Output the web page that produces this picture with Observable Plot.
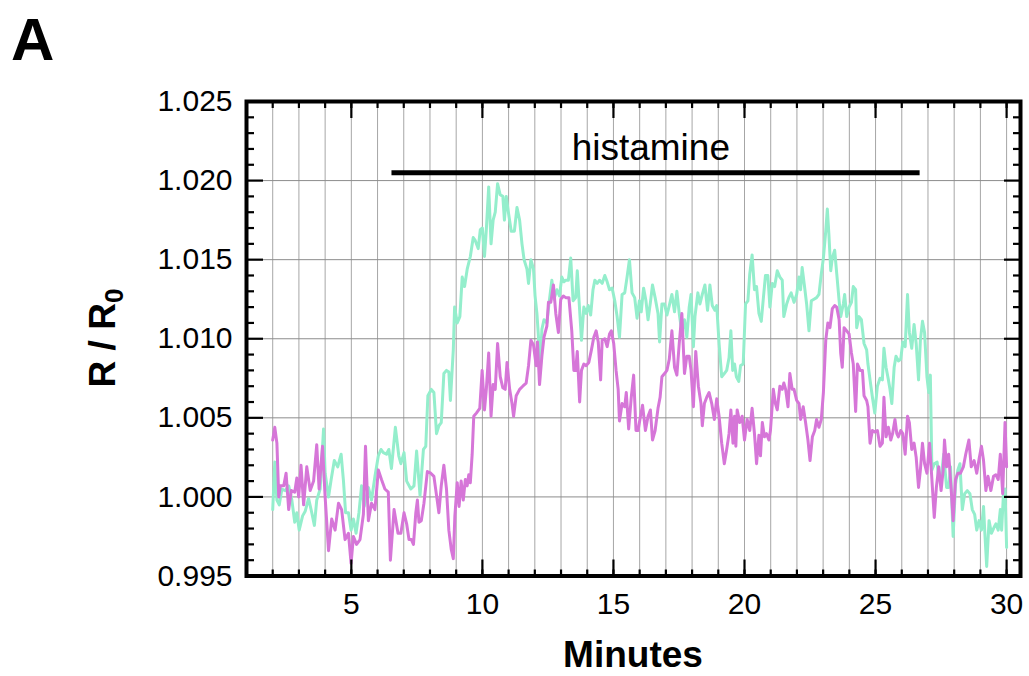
<!DOCTYPE html>
<html>
<head>
<meta charset="utf-8">
<script src="https://cdn.jsdelivr.net/npm/d3@7"></script>
<script src="https://cdn.jsdelivr.net/npm/@observablehq/plot@0.6"></script>
<style>
  html, body { margin: 0; padding: 0; background: #fff; }
</style>
</head>
<body>
<div id="chart"></div>
<script>
// ---- Data ----
const panelLabel = "A";
const xTitle = "Minutes";
const stimulusLabel = "histamine";
const stimulusStart = 6.55;
const stimulusEnd = 26.7;
const stimulusLevel = 1.0205;
const stimulusTextLevel = 1.0213;

const xMajorTicks = [5, 10, 15, 20, 25, 30];
const xMinorTicks = [2,3,4,5,6,7,8,9,10,11,12,13,14,15,16,17,18,19,20,21,22,23,24,25,26,27,28,29,30];
const yMajorTicks = [0.995, 1.000, 1.005, 1.010, 1.015, 1.020, 1.025];
const yMinorTicks = [0.996,0.997,0.998,0.999,1.001,1.002,1.003,1.004,1.006,1.007,1.008,1.009,
  1.011,1.012,1.013,1.014,1.016,1.017,1.018,1.019,1.021,1.022,1.023,1.024];

// teal trace: [minutes, R/R0]
const tealSeries = [
[2.00,0.9992],[2.08,1.0022],[2.16,0.9998],[2.25,0.9995],[2.35,1.0005],[2.48,1.0004],[2.61,1.0007],[2.73,0.9998],[2.84,0.9984],[2.92,0.9990],[3.01,0.9979],[3.14,0.9988],[3.24,0.9991],[3.37,0.9999],[3.49,0.9990],[3.59,0.9982],[3.68,0.9998],[3.81,1.0005],[3.94,1.0043],[4.00,1.0015],[4.13,1.0000],[4.23,1.0011],[4.35,1.0023],[4.48,1.0019],[4.61,1.0027],[4.70,1.0010],[4.78,0.9990],[4.89,0.9990],[4.99,0.9979],[5.08,0.9986],[5.18,0.9977],[5.29,0.9990],[5.39,1.0007],[5.49,0.9994],[5.65,1.0006],[5.77,0.9998],[5.90,1.0013],[6.03,1.0026],[6.13,1.0030],[6.22,1.0028],[6.34,1.0027],[6.43,1.0030],[6.53,1.0018],[6.68,1.0044],[6.81,1.0026],
[6.89,1.0021],[7.01,1.0028],[7.11,1.0010],[7.27,1.0005],[7.39,1.0007],[7.49,1.0029],[7.62,1.0001],[7.75,1.0030],[7.84,1.0032],[7.92,1.0064],[8.05,1.0068],[8.15,1.0066],[8.25,1.0040],[8.34,1.0045],[8.43,1.0047],[8.53,1.0078],[8.63,1.0080],[8.72,1.0079],[8.78,1.0061],[8.89,1.0093],[8.94,1.0120],[9.04,1.0110],[9.14,1.0114],[9.23,1.0139],[9.32,1.0133],[9.42,1.0144],[9.54,1.0152],[9.65,1.0164],[9.73,1.0162],[9.84,1.0157],[9.92,1.0169],[10.00,1.0170],[10.08,1.0152],[10.15,1.0169],[10.24,1.0196],[10.33,1.0160],[10.41,1.0175],[10.49,1.0180],[10.58,1.0198],[10.68,1.0191],[10.78,1.0190],[10.84,1.0175],[10.91,1.0190],[11.00,1.0179],[11.10,1.0168],[11.22,1.0168],[11.32,1.0183],[11.42,1.0175],[11.51,1.0160],[11.59,1.0150],[11.70,1.0144],[11.76,1.0135],[11.85,1.0150],[11.95,1.0144],[12.01,1.0127],[12.08,1.0116],[12.14,1.0101],[12.20,1.0080],[12.27,1.0106],[12.35,1.0112],[12.46,1.0110],[12.56,1.0125],[12.65,1.0137],[12.73,1.0125],[12.84,1.0131],[12.94,1.0127],[13.03,1.0139],[13.11,1.0136],
[13.18,1.0137],[13.28,1.0137],[13.37,1.0151],[13.46,1.0124],[13.56,1.0126],[13.62,1.0143],[13.71,1.0118],[13.78,1.0099],[13.87,1.0120],[13.96,1.0116],[14.04,1.0121],[14.13,1.0115],[14.22,1.0131],[14.29,1.0137],[14.38,1.0135],[14.47,1.0137],[14.57,1.0135],[14.67,1.0140],[14.76,1.0136],[14.85,1.0131],[14.95,1.0132],[15.05,1.0124],[15.14,1.0114],[15.23,1.0101],[15.33,1.0128],[15.43,1.0129],[15.52,1.0139],[15.61,1.0150],[15.71,1.0129],[15.81,1.0126],[15.90,1.0113],[15.99,1.0124],[16.06,1.0117],[16.15,1.0132],[16.24,1.0124],[16.32,1.0112],[16.41,1.0123],[16.49,1.0134],[16.59,1.0126],[16.70,1.0116],[16.76,1.0098],[16.85,1.0122],[16.95,1.0122],[17.04,1.0115],[17.13,1.0121],[17.23,1.0128],[17.33,1.0117],[17.42,1.0130],[17.51,1.0116],[17.61,1.0104],[17.71,1.0112],[17.80,1.0101],[17.89,1.0120],[17.96,1.0128],[18.05,1.0095],[18.11,1.0114],[18.22,1.0129],[18.30,1.0122],[18.39,1.0128],[18.49,1.0134],[18.59,1.0118],[18.68,1.0134],[18.77,1.0121],[18.87,1.0118],[18.94,1.0121],[19.03,1.0097],[19.13,1.0076],[19.23,1.0078],[19.32,1.0080],[19.41,1.0088],[19.48,1.0105],
[19.55,1.0080],[19.62,1.0084],[19.69,1.0076],[19.78,1.0073],[19.85,1.0083],[19.95,1.0084],[20.04,1.0122],[20.13,1.0124],[20.20,1.0141],[20.29,1.0153],[20.38,1.0131],[20.46,1.0133],[20.55,1.0116],[20.64,1.0111],[20.71,1.0124],[20.80,1.0140],[20.89,1.0140],[20.97,1.0120],[21.06,1.0135],[21.15,1.0133],[21.25,1.0143],[21.35,1.0139],[21.44,1.0137],[21.50,1.0114],[21.61,1.0122],[21.69,1.0126],[21.78,1.0129],[21.89,1.0123],[21.99,1.0128],[22.08,1.0139],[22.14,1.0131],[22.20,1.0145],[22.29,1.0133],[22.37,1.0122],[22.46,1.0105],[22.55,1.0124],[22.65,1.0125],[22.75,1.0126],[22.84,1.0128],[22.93,1.0141],[23.01,1.0151],[23.10,1.0168],[23.16,1.0182],[23.22,1.0166],[23.29,1.0143],[23.35,1.0151],[23.44,1.0156],[23.52,1.0141],[23.61,1.0124],[23.67,1.0114],[23.77,1.0122],[23.82,1.0128],[23.90,1.0114],[23.99,1.0120],[24.08,1.0123],[24.15,1.0133],[24.24,1.0131],[24.28,1.0107],[24.37,1.0114],[24.46,1.0112],[24.56,1.0097],[24.66,1.0093],[24.71,1.0084],[24.79,1.0074],[24.88,1.0063],[24.97,1.0053],[25.07,1.0070],[25.17,1.0075],[25.26,1.0074],
[25.32,1.0094],[25.40,1.0082],[25.49,1.0074],[25.55,1.0068],[25.62,1.0059],[25.71,1.0082],[25.78,1.0089],[25.87,1.0086],[25.96,1.0087],[26.04,1.0098],[26.13,1.0095],[26.22,1.0128],[26.29,1.0104],[26.38,1.0094],[26.47,1.0109],[26.55,1.0097],[26.64,1.0074],[26.71,1.0099],[26.79,1.0111],[26.87,1.0104],[26.96,1.0076],[27.03,1.0066],[27.09,1.0077],[27.15,1.0017],[27.24,1.0021],[27.35,1.0022],[27.41,1.0011],[27.50,1.0012],[27.60,1.0027],[27.71,1.0006],[27.79,1.0006],[27.86,1.0019],[27.96,0.9975],[28.05,1.0008],[28.14,1.0017],[28.22,1.0021],[28.31,0.9992],[28.40,1.0002],[28.50,1.0004],[28.60,1.0002],[28.69,0.9992],[28.78,0.9989],[28.86,0.9979],[28.95,0.9985],[29.04,0.9979],[29.12,0.9994],[29.17,0.9977],[29.24,0.9956],[29.33,0.9985],[29.42,0.9977],[29.53,0.9981],[29.59,0.9983],[29.68,0.9979],[29.76,0.9992],[29.81,0.9979],[29.88,1.0002],[29.94,1.0005],[30.00,0.9968]
];

// magenta trace: [minutes, R/R0]
const magentaSeries = [
[2.00,1.0036],[2.08,1.0044],[2.16,1.0034],[2.23,1.0000],[2.29,1.0007],[2.42,1.0007],[2.51,1.0015],[2.61,0.9992],[2.71,1.0004],[2.84,1.0003],[2.92,1.0012],[2.99,1.0000],[3.08,1.0020],[3.18,0.9995],[3.30,1.0019],[3.43,1.0004],[3.56,1.0010],[3.68,1.0033],[3.77,1.0005],[3.90,1.0032],[4.00,1.0000],[4.13,0.9966],[4.25,0.9986],[4.38,0.9979],[4.51,0.9996],[4.63,0.9992],[4.76,0.9973],[4.89,0.9977],[4.99,0.9958],[5.08,0.9975],[5.20,0.9970],[5.33,0.9973],[5.46,0.9989],[5.54,1.0032],[5.65,0.9985],[5.77,0.9996],[5.90,0.9992],[6.03,1.0017],[6.15,1.0011],[6.28,1.0005],[6.41,1.0003],[6.49,0.9960],[6.63,0.9992],[6.78,0.9977],
[6.89,0.9977],[7.01,0.9990],[7.11,0.9983],[7.20,0.9973],[7.29,0.9973],[7.37,0.9970],[7.46,0.9990],[7.52,0.9998],[7.58,0.9984],[7.67,0.9985],[7.77,0.9996],[7.90,1.0016],[8.03,1.0015],[8.15,1.0013],[8.25,1.0001],[8.34,0.9990],[8.43,1.0007],[8.53,1.0020],[8.63,1.0005],[8.72,0.9979],[8.81,0.9967],[8.89,0.9961],[8.95,0.9988],[9.04,1.0009],[9.11,0.9994],[9.19,1.0010],[9.27,0.9998],[9.35,1.0011],[9.42,1.0007],[9.48,1.0014],[9.54,1.0009],[9.61,1.0027],[9.67,1.0051],[9.77,1.0053],[9.90,1.0056],[9.99,1.0080],[10.08,1.0055],[10.15,1.0068],[10.24,1.0091],[10.33,1.0051],[10.41,1.0071],[10.49,1.0068],[10.58,1.0097],[10.68,1.0076],[10.78,1.0069],[10.87,1.0068],[10.94,1.0085],[11.04,1.0068],[11.13,1.0059],[11.19,1.0051],[11.29,1.0064],[11.42,1.0068],[11.54,1.0070],[11.67,1.0072],[11.76,1.0083],[11.85,1.0099],[11.95,1.0096],[12.05,1.0083],[12.10,1.0098],[12.18,1.0071],[12.27,1.0089],[12.35,1.0101],[12.46,1.0108],[12.52,1.0123],[12.61,1.0123],[12.71,1.0134],[12.80,1.0116],[12.90,1.0104],[12.99,1.0125],[13.09,1.0127],
[13.18,1.0126],[13.30,1.0126],[13.41,1.0105],[13.49,1.0080],[13.56,1.0080],[13.62,1.0092],[13.71,1.0060],[13.78,1.0080],[13.87,1.0084],[13.96,1.0083],[14.06,1.0085],[14.16,1.0093],[14.25,1.0101],[14.34,1.0105],[14.42,1.0098],[14.51,1.0074],[14.57,1.0099],[14.67,1.0100],[14.76,1.0095],[14.85,1.0103],[14.92,1.0105],[15.01,1.0097],[15.10,1.0080],[15.18,1.0068],[15.23,1.0048],[15.33,1.0059],[15.43,1.0057],[15.49,1.0066],[15.58,1.0043],[15.68,1.0063],[15.77,1.0077],[15.86,1.0042],[15.94,1.0042],[16.03,1.0051],[16.11,1.0058],[16.22,1.0042],[16.32,1.0051],[16.41,1.0055],[16.49,1.0036],[16.59,1.0042],[16.70,1.0056],[16.78,1.0063],[16.85,1.0076],[16.95,1.0078],[17.04,1.0080],[17.13,1.0087],[17.23,1.0105],[17.33,1.0082],[17.42,1.0077],[17.51,1.0097],[17.61,1.0116],[17.71,1.0078],[17.80,1.0089],[17.89,1.0089],[17.96,1.0080],[18.05,1.0057],[18.14,1.0092],[18.24,1.0070],[18.34,1.0059],[18.39,1.0045],[18.47,1.0059],[18.56,1.0063],[18.65,1.0066],[18.75,1.0059],[18.85,1.0049],[18.94,1.0062],[19.03,1.0051],[19.13,1.0034],[19.23,1.0021],[19.32,1.0030],[19.41,1.0040],[19.48,1.0055],
[19.56,1.0034],[19.62,1.0051],[19.67,1.0032],[19.72,1.0055],[19.82,1.0047],[19.91,1.0051],[20.00,1.0036],[20.10,1.0049],[20.20,1.0042],[20.29,1.0056],[20.38,1.0040],[20.46,1.0021],[20.55,1.0039],[20.61,1.0026],[20.68,1.0047],[20.76,1.0038],[20.84,1.0040],[20.93,1.0036],[20.99,1.0042],[21.10,1.0068],[21.18,1.0059],[21.25,1.0055],[21.35,1.0070],[21.44,1.0068],[21.50,1.0072],[21.57,1.0068],[21.66,1.0057],[21.73,1.0078],[21.82,1.0068],[21.89,1.0068],[21.99,1.0061],[22.08,1.0059],[22.14,1.0049],[22.24,1.0057],[22.33,1.0047],[22.42,1.0036],[22.50,1.0023],[22.59,1.0038],[22.68,1.0042],[22.75,1.0049],[22.84,1.0044],[22.93,1.0049],[23.01,1.0066],[23.10,1.0099],[23.18,1.0110],[23.26,1.0107],[23.35,1.0119],[23.44,1.0121],[23.52,1.0120],[23.61,1.0112],[23.67,1.0091],[23.73,1.0082],[23.80,1.0107],[23.90,1.0105],[23.99,1.0103],[24.08,1.0091],[24.15,1.0084],[24.24,1.0054],[24.31,1.0084],[24.41,1.0080],[24.50,1.0080],[24.56,1.0064],[24.66,1.0061],[24.71,1.0057],[24.79,1.0034],[24.88,1.0042],[24.97,1.0041],[25.07,1.0042],[25.17,1.0032],[25.26,1.0034],
[25.32,1.0063],[25.40,1.0038],[25.49,1.0044],[25.58,1.0036],[25.65,1.0040],[25.74,1.0049],[25.81,1.0040],[25.87,1.0038],[25.96,1.0042],[26.04,1.0040],[26.13,1.0027],[26.22,1.0051],[26.29,1.0047],[26.38,1.0030],[26.47,1.0034],[26.55,1.0025],[26.64,1.0006],[26.71,1.0017],[26.79,1.0034],[26.87,1.0021],[26.96,1.0015],[27.06,1.0034],[27.15,1.0011],[27.24,0.9987],[27.32,1.0006],[27.41,1.0019],[27.50,1.0004],[27.58,1.0017],[27.63,1.0036],[27.71,1.0019],[27.79,1.0027],[27.88,1.0006],[27.96,0.9985],[28.05,1.0011],[28.14,1.0015],[28.24,1.0015],[28.35,1.0019],[28.44,1.0027],[28.56,1.0036],[28.65,1.0019],[28.76,1.0023],[28.86,1.0015],[28.95,1.0024],[29.04,1.0032],[29.12,1.0023],[29.21,1.0004],[29.29,1.0013],[29.40,1.0004],[29.50,1.0013],[29.59,1.0014],[29.68,1.0011],[29.76,1.0027],[29.85,1.0002],[29.94,1.0047],[30.00,1.0019]
];

const stimulus = [{start: stimulusStart, end: stimulusEnd, level: stimulusLevel}];

// ---- Styles ----
const tealColor = "#94eecc";
const magentaColor = "#d676d8";
const font = "'Liberation Sans', Arial, Helvetica, sans-serif";
const blank = () => "";

const chart = Plot.plot({
  width: 1029,
  height: 676,
  marginLeft: 246,
  marginRight: 9,
  marginTop: 101,
  marginBottom: 100.5,
  style: {fontFamily: font, background: "white", color: "black", overflow: "visible"},
  x: {domain: [1.0, 30.53]},
  y: {domain: [0.995, 1.025]},
  marks: [
    Plot.gridX(xMinorTicks, {stroke: "#a6a6a6", strokeOpacity: 1, strokeWidth: 1}),
    Plot.gridY(yMajorTicks, {stroke: "#8c8c8c", strokeOpacity: 1, strokeWidth: 1}),
    Plot.ruleY(stimulus, {x1: "start", x2: "end", y: "level", stroke: "black", strokeWidth: 5}),
    Plot.text([stimulusLabel], {x: (stimulusStart + stimulusEnd) / 2 - 0.2, y: stimulusTextLevel, text: d => d,
      fontSize: 37, lineAnchor: "bottom", textAnchor: "middle", fill: "black"}),
    Plot.line(tealSeries, {x: d => d[0], y: d => d[1], stroke: tealColor, strokeWidth: 3}),
    Plot.line(magentaSeries, {x: d => d[0], y: d => d[1], stroke: magentaColor, strokeWidth: 3}),
    // bottom axis
    Plot.axisX(xMajorTicks, {anchor: "bottom", tickSize: 0, tickPadding: 16.5, fontSize: 30, label: null}),
    Plot.axisX(xMajorTicks, {anchor: "bottom", tickSize: -16, strokeWidth: 2.2, tickFormat: blank, label: null}),
    Plot.axisX(xMinorTicks, {anchor: "bottom", tickSize: -6, strokeWidth: 2.2, tickFormat: blank, label: null}),
    // top axis
    Plot.axisX(xMajorTicks, {anchor: "top", tickSize: -16, strokeWidth: 2.2, tickFormat: blank, label: null}),
    Plot.axisX(xMinorTicks, {anchor: "top", tickSize: -6, strokeWidth: 2.2, tickFormat: blank, label: null}),
    // left axis
    Plot.axisY(yMajorTicks, {anchor: "left", tickSize: 0, tickPadding: 14, fontSize: 30, tickFormat: d3.format(".3f"), label: null}),
    Plot.axisY(yMajorTicks, {anchor: "left", tickSize: -17, strokeWidth: 2.2, tickFormat: blank, label: null}),
    Plot.axisY(yMinorTicks, {anchor: "left", tickSize: -8, strokeWidth: 2.2, tickFormat: blank, label: null}),
    // right axis
    Plot.axisY(yMajorTicks, {anchor: "right", tickSize: -17, strokeWidth: 2.2, tickFormat: blank, label: null}),
    Plot.axisY(yMinorTicks, {anchor: "right", tickSize: -8, strokeWidth: 2.2, tickFormat: blank, label: null}),
    Plot.frame({stroke: "black", strokeWidth: 4})
  ]
});

document.getElementById("chart").appendChild(chart);

// titles
const svg = d3.select(chart);
svg.append("text")
  .attr("x", 11).attr("y", 60)
  .attr("text-anchor", "start")
  .attr("font-family", font).attr("font-weight", "bold").attr("font-size", 60)
  .attr("fill", "black")
  .text(panelLabel);

svg.append("text")
  .attr("x", 633).attr("y", 667)
  .attr("text-anchor", "middle")
  .attr("font-family", font).attr("font-weight", "bold").attr("font-size", 37)
  .attr("fill", "black")
  .text(xTitle);

const yt = svg.append("text")
  .attr("transform", "translate(115,338) rotate(-90)")
  .attr("text-anchor", "middle")
  .attr("font-family", font).attr("font-weight", "bold").attr("font-size", 37)
  .attr("fill", "black");
yt.append("tspan").text("R / R");
yt.append("tspan").attr("font-size", 26).attr("dy", 8).text("0");
</script>
</body>
</html>
